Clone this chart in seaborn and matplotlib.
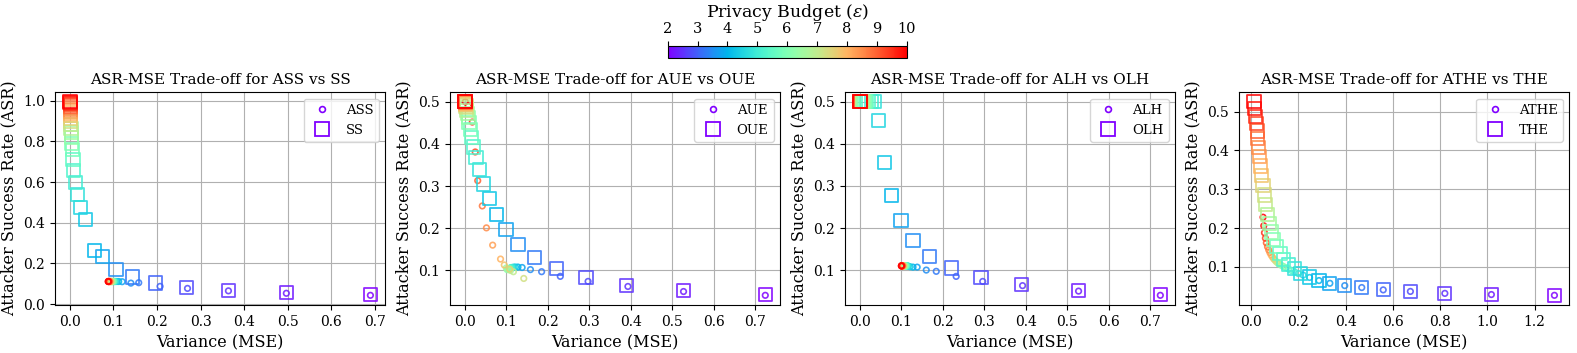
import numpy as np
import matplotlib
matplotlib.use("Agg")
import matplotlib.pyplot as plt
import seaborn as sns
from matplotlib.lines import Line2D
from matplotlib.colors import Normalize
from matplotlib.cm import ScalarMappable
from matplotlib.ticker import MultipleLocator

plt.rcParams["font.family"] = "serif"
plt.rcParams["font.serif"] = ["DejaVu Serif"]
plt.rcParams["mathtext.fontset"] = "dejavuserif"

eps = [2.0, 2.25, 2.5, 2.75, 3.0, 3.25, 3.5, 3.75, 4.0, 4.25, 4.5, 4.75, 5.0,
       5.25, 5.5, 5.75, 6.0, 6.25, 6.5, 6.75, 7.0, 7.25, 7.5, 7.75, 8.0,
       8.25, 8.5, 8.75, 9.0, 9.25, 9.5, 9.75, 10.0]

# ASS vs SS
ass_x = [0.690, 0.497, 0.364, 0.270, 0.207, 0.158, 0.140, 0.120, 0.112, 0.108, 0.105,
         0.103, 0.102, 0.101, 0.100, 0.099, 0.098, 0.097, 0.096, 0.095, 0.095, 0.094,
         0.093, 0.093, 0.092, 0.091, 0.091, 0.090, 0.090, 0.089, 0.089, 0.088, 0.088]
ass_y = [0.043, 0.053, 0.065, 0.077, 0.087, 0.105, 0.103, 0.110, 0.111, 0.111, 0.111,
         0.111, 0.111, 0.111, 0.111, 0.111, 0.111, 0.111, 0.111, 0.111, 0.111, 0.111,
         0.111, 0.111, 0.111, 0.111, 0.111, 0.111, 0.111, 0.111, 0.111, 0.111, 0.111]
ss_x = [0.690, 0.497, 0.365, 0.268, 0.196, 0.144, 0.106, 0.075, 0.056, 0.035, 0.024,
        0.017, 0.012, 0.009, 0.007, 0.005, 0.004, 0.0035, 0.003, 0.0025, 0.002, 0.0018,
        0.0015, 0.0013, 0.0011, 0.0009, 0.0008, 0.0007, 0.0006, 0.0005, 0.0004, 0.0003, 0.0003]
ss_y = [0.045, 0.055, 0.065, 0.080, 0.104, 0.133, 0.170, 0.235, 0.264, 0.414, 0.477,
        0.539, 0.600, 0.658, 0.710, 0.760, 0.790, 0.818, 0.843, 0.864, 0.883, 0.900,
        0.915, 0.928, 0.940, 0.950, 0.959, 0.967, 0.974, 0.980, 0.986, 0.991, 0.995]

# AUE vs OUE
aue_x = [0.724, 0.527, 0.393, 0.297, 0.230, 0.185, 0.158, 0.138, 0.128, 0.122, 0.118,
         0.115, 0.112, 0.110, 0.108, 0.106, 0.104, 0.102, 0.100, 0.110, 0.117, 0.142,
         0.108, 0.095, 0.086, 0.067, 0.052, 0.042, 0.031, 0.025, 0.018, 0.008, 0.001]
aue_y = [0.041, 0.050, 0.062, 0.074, 0.086, 0.097, 0.102, 0.107, 0.108, 0.108, 0.108,
         0.107, 0.107, 0.106, 0.105, 0.104, 0.103, 0.102, 0.106, 0.100, 0.097, 0.081,
         0.103, 0.113, 0.127, 0.160, 0.201, 0.253, 0.313, 0.381, 0.452, 0.490, 0.500]
oue_x = [0.724, 0.527, 0.390, 0.292, 0.221, 0.168, 0.128, 0.099, 0.076, 0.059, 0.045,
         0.035, 0.027, 0.021, 0.0165, 0.0128, 0.0100, 0.0078, 0.0060, 0.0047, 0.0037, 0.0028,
         0.0022, 0.0017, 0.0013, 0.0010, 0.0008, 0.0006, 0.0005, 0.0004, 0.0003, 0.0002, 0.0002]
oue_y = [0.042, 0.052, 0.065, 0.083, 0.105, 0.131, 0.162, 0.197, 0.233, 0.270, 0.305,
         0.340, 0.368, 0.393, 0.415, 0.435, 0.450, 0.462, 0.472, 0.480, 0.486, 0.490,
         0.493, 0.495, 0.497, 0.498, 0.499, 0.4995, 0.500, 0.500, 0.500, 0.500, 0.500]

# ALH vs OLH
alh_x = [0.724, 0.527, 0.392, 0.296, 0.232, 0.184, 0.160, 0.138, 0.128, 0.121, 0.117,
         0.115, 0.113, 0.112, 0.111, 0.110, 0.109, 0.108, 0.107, 0.106, 0.1055, 0.105,
         0.1045, 0.104, 0.1035, 0.103, 0.1025, 0.102, 0.1015, 0.101, 0.1005, 0.100, 0.100]
alh_y = [0.040, 0.050, 0.063, 0.073, 0.085, 0.097, 0.100, 0.107, 0.107, 0.108, 0.109,
         0.110, 0.110, 0.110, 0.110, 0.110, 0.110, 0.110, 0.110, 0.110, 0.110, 0.110,
         0.110, 0.110, 0.110, 0.110, 0.110, 0.110, 0.110, 0.110, 0.110, 0.110, 0.110]
olh_x = [0.724, 0.527, 0.390, 0.292, 0.221, 0.168, 0.128, 0.099, 0.076, 0.059, 0.045,
         0.035, 0.027, 0.021, 0.0165, 0.0128, 0.0100, 0.0078, 0.0060, 0.0047, 0.0037, 0.0028,
         0.0022, 0.0017, 0.0013, 0.0010, 0.0008, 0.0006, 0.0005, 0.0004, 0.0003, 0.0002, 0.0002]
olh_y = [0.042, 0.052, 0.065, 0.083, 0.105, 0.133, 0.170, 0.218, 0.278, 0.355, 0.455,
         0.500, 0.500, 0.500, 0.500, 0.500, 0.500, 0.500, 0.500, 0.500, 0.500, 0.500,
         0.500, 0.500, 0.500, 0.500, 0.500, 0.500, 0.500, 0.500, 0.500, 0.500, 0.500]

# ATHE vs THE
athe_x = [1.284, 1.017, 0.820, 0.674, 0.559, 0.468, 0.396, 0.333, 0.287, 0.247, 0.220,
          0.200, 0.185, 0.170, 0.158, 0.147, 0.137, 0.128, 0.120, 0.113, 0.107, 0.101,
          0.095, 0.089, 0.084, 0.079, 0.074, 0.069, 0.064, 0.060, 0.056, 0.053, 0.050]
athe_y = [0.027, 0.029, 0.032, 0.037, 0.041, 0.047, 0.052, 0.058, 0.065, 0.073, 0.079,
          0.083, 0.087, 0.091, 0.095, 0.098, 0.101, 0.104, 0.107, 0.110, 0.113, 0.117,
          0.121, 0.126, 0.131, 0.137, 0.144, 0.152, 0.162, 0.174, 0.188, 0.206, 0.228]
the_x = [1.284, 1.017, 0.820, 0.674, 0.559, 0.468, 0.396, 0.333, 0.287, 0.247, 0.210,
         0.182, 0.158, 0.138, 0.122, 0.108, 0.096, 0.086, 0.077, 0.069, 0.062, 0.055,
         0.050, 0.045, 0.040, 0.036, 0.032, 0.028, 0.025, 0.021, 0.018, 0.015, 0.012]
the_y = [0.027, 0.029, 0.032, 0.037, 0.041, 0.047, 0.052, 0.058, 0.065, 0.074, 0.083,
         0.095, 0.107, 0.120, 0.135, 0.152, 0.170, 0.190, 0.212, 0.236, 0.260, 0.285,
         0.310, 0.335, 0.360, 0.385, 0.408, 0.430, 0.450, 0.470, 0.488, 0.507, 0.525]

panels = [
    ("ASS", "SS", ass_x, ass_y, ss_x, ss_y, 0.1),
    ("AUE", "OUE", aue_x, aue_y, oue_x, oue_y, 0.1),
    ("ALH", "OLH", alh_x, alh_y, olh_x, olh_y, 0.1),
    ("ATHE", "THE", athe_x, athe_y, the_x, the_y, 0.2),
]

cmap = plt.get_cmap("rainbow")
norm = Normalize(vmin=2, vmax=10)


def hollow_scatter(ax, x, y, marker, size, lw):
    sns.scatterplot(x=x, y=y, hue=eps, palette="rainbow", hue_norm=(2, 10),
                    marker=marker, s=size, legend=False, ax=ax, alpha=0.85)
    coll = ax.collections[-1]
    fc = coll.get_facecolors()
    coll.set_edgecolors(fc)
    coll.set_facecolors("none")
    coll.set_linewidths(lw)


fig = plt.figure(figsize=(15.77, 3.53), dpi=100)
lefts = [0.0349, 0.2853, 0.5358, 0.7857]
for i, (adv, base, ax_, ay_, bx_, by_, xstep) in enumerate(panels):
    ax = fig.add_axes([lefts[i], 0.136, 0.2095, 0.603])
    hollow_scatter(ax, ax_, ay_, "o", 16, 1.2)
    hollow_scatter(ax, bx_, by_, "s", 90, 1.3)
    ax.xaxis.set_major_locator(MultipleLocator(xstep))
    ax.grid(True, color="#b0b0b0", linewidth=0.8)
    ax.set_axisbelow(True)
    ax.set_title(f"ASR-MSE Trade-off for {adv} vs {base}", fontsize=11)
    ax.set_xlabel("Variance (MSE)", fontsize=11.5)
    ax.set_ylabel("Attacker Success Rate (ASR)", fontsize=11.5)
    ax.tick_params(labelsize=10)
    c0 = cmap(norm(eps[0]))
    handles = [
        Line2D([], [], linestyle="none", marker="o", markersize=4.2,
               markerfacecolor="none", markeredgecolor=c0, markeredgewidth=1.2),
        Line2D([], [], linestyle="none", marker="s", markersize=9.5,
               markerfacecolor="none", markeredgecolor=c0, markeredgewidth=1.3),
    ]
    ax.legend(handles, [adv, base], loc="upper right", fontsize=9.5)

cax = fig.add_axes([0.4234, 0.835, 0.1515, 0.035])
cb = fig.colorbar(ScalarMappable(norm=norm, cmap=cmap), cax=cax, orientation="horizontal")
cax.xaxis.set_ticks_position("top")
cax.xaxis.set_label_position("top")
cb.set_ticks([2, 3, 4, 5, 6, 7, 8, 9, 10])
cax.tick_params(labelsize=10.5)
cb.set_label(r"Privacy Budget ($\varepsilon$)", fontsize=12.5)

fig.savefig("out.png", dpi=100)
